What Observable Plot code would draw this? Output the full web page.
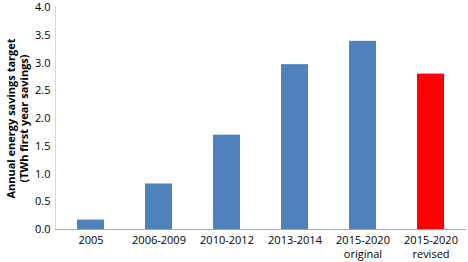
<!DOCTYPE html>
<html>
<head>
<meta charset="utf-8">
<script src="https://cdn.jsdelivr.net/npm/d3@7"></script>
<script src="https://cdn.jsdelivr.net/npm/@observablehq/plot@0.6"></script>
<style>
  html, body { margin: 0; padding: 0; background: #fff; }
</style>
</head>
<body>
<div id="chart"></div>
<script>
const categories = ["2005", "2006-2009", "2010-2012", "2013-2014", "2015-2020\noriginal", "2015-2020\nrevised"];
const values = [0.17, 0.82, 1.70, 2.97, 3.39, 2.80];
const colors = ["#4f81bd", "#4f81bd", "#4f81bd", "#4f81bd", "#4f81bd", "#ff0000"];
const yTicks = [0, 0.5, 1, 1.5, 2, 2.5, 3, 3.5, 4];
const yLabel = ["Annual energy savings target\n(TWh first year savings)"];

const data = categories.map((c, i) => ({category: c, value: values[i], color: colors[i]}));

const chart = Plot.plot({
  width: 468,
  height: 262,
  marginLeft: 55,
  marginRight: 2,
  marginTop: 7,
  marginBottom: 33,
  style: {fontFamily: "'Open Sans', sans-serif", fontSize: "11px", color: "#000", background: "#fff"},
  x: {domain: categories, paddingInner: 0.6, paddingOuter: 0.3, label: null},
  y: {domain: [0, 4], label: null},
  marks: [
    Plot.frame({anchor: "left", stroke: "#d9d9d9"}),
    Plot.barY(data, {x: "category", y: "value", fill: "color"}),
    Plot.ruleY([0], {stroke: "#a6a6a6"}),
    Plot.axisY({ticks: yTicks, tickFormat: d => d.toFixed(1), tickSize: 0, tickPadding: 5, label: null, fill: "#000"}),
    Plot.axisX({tickSize: 0, tickPadding: 5, label: null, lineHeight: 1.25, fill: "#000"}),
    Plot.text(yLabel, {text: d => d, frameAnchor: "left", textAnchor: "middle", rotate: -90, dx: -38, fontWeight: "bold", fontSize: 11, lineHeight: 1.15, fill: "#000"})
  ]
});
document.getElementById("chart").appendChild(chart);
</script>
</body>
</html>
